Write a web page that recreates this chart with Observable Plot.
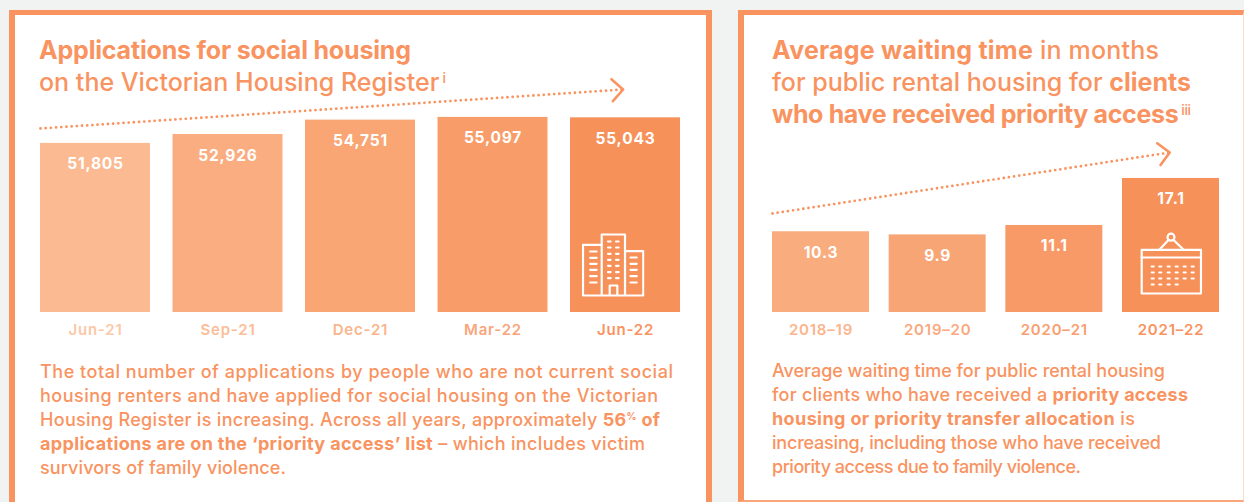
<!DOCTYPE html>
<html><head><meta charset="utf-8">
<script src="https://cdn.jsdelivr.net/npm/d3@7"></script>
<script src="https://cdn.jsdelivr.net/npm/@observablehq/plot@0.6"></script>
<style>
html,body{margin:0;padding:0;width:1244px;height:502px;overflow:hidden;background:#f1f3f2;font-family:Inter,"Noto Sans",sans-serif;color:#f9935f}
.panel{position:absolute;background:#fff;box-sizing:border-box;border:solid #f9935f}
#p1{left:9px;top:10px;width:703px;height:520px;border-width:5px 6px 0 6px}
#p2{left:738px;top:10px;width:506px;height:492px;border-width:5px 1px 2px 6px;border-right-color:#f9dcca;border-bottom-color:#f9a67a}
.chart{position:absolute}
.chart svg{overflow:visible;display:block;background:transparent}
.chart svg text{font-family:Inter,"Noto Sans",sans-serif}
.line{position:absolute;white-space:nowrap;display:inline-block}
.t{font-size:25px;line-height:32px;font-weight:500}
.b{font-size:18px;line-height:24px;font-weight:500}
.line b{font-weight:700}
sup{font-size:.55em;line-height:0;vertical-align:.6em;font-weight:500;margin-left:3px}
sup.p{margin-left:0;font-weight:700}
</style></head><body>
<div class="panel" id="p1"></div>
<div class="panel" id="p2"></div>

<div class="line t" data-w="372" style="left:39px;top:34px"><b>Applications for social housing</b></div>
<div class="line t" data-w="407" style="left:39px;top:66px">on the Victorian Housing Register<sup>i</sup></div>

<div class="line t" data-w="387" style="left:772px;top:34px"><b>Average waiting time</b> in months</div>
<div class="line t" data-w="419" style="left:772px;top:66px">for public rental housing for <b>clients</b></div>
<div class="line t" data-w="419" style="left:772px;top:98px"><b>who have received priority access</b><sup>iii</sup></div>

<div class="line b" data-w="633" style="left:40px;top:360px">The total number of applications by people who are not current social</div>
<div class="line b" data-w="618" style="left:40px;top:384px">housing renters and have applied for social housing on the Victorian</div>
<div class="line b" data-w="620" style="left:40px;top:408px">Housing Register is increasing. Across all years, approximately <b>56<sup class="p">%</sup> of</b></div>
<div class="line b" data-w="605" style="left:40px;top:432px"><b>applications are on the ‘priority access’ list</b> – which includes victim</div>
<div class="line b" data-w="246" style="left:40px;top:456px">survivors of family violence.</div>

<div class="line b" data-w="393" style="left:772px;top:359px">Average waiting time for public rental housing</div>
<div class="line b" data-w="416" style="left:772px;top:383px">for clients who have received a <b>priority access</b></div>
<div class="line b" data-w="363" style="left:772px;top:407px"><b>housing or priority transfer allocation</b> is</div>
<div class="line b" data-w="389" style="left:772px;top:431px">increasing, including those who have received</div>
<div class="line b" data-w="309" style="left:772px;top:455px">priority access due to family violence.</div>

<div class="chart" id="c1" style="left:20px;top:75px"></div>
<div class="chart" id="c2" style="left:752px;top:135px"></div>

<script>
// ---- Applications chart data
const appCategories = ["Jun-21", "Sep-21", "Dec-21", "Mar-22", "Jun-22"];
const appValues = [51805, 52926, 54751, 55097, 55043];
const appColors = ["#fbba92", "#faad80", "#f9a574", "#f89d69", "#f6915a"];
const appTickColors = ["#fcc8a8", "#fbbd98", "#fbb58c", "#f9a67c", "#f9935f"];
const appTrendX = [0, 4.397];
const appTrendY = [53691, 58628];

// ---- Waiting time chart data
const waitCategories = ["2018–19", "2019–20", "2020–21", "2021–22"];
const waitValues = [10.3, 9.9, 11.1, 17.1];
const waitColors = ["#f9ac7e", "#f8a576", "#f89a68", "#f6915a"];
const waitTickColors = ["#fbb48c", "#faa97e", "#f9a072", "#f9935f"];
const waitTrendX = [0, 3.405];
const waitTrendY = [12.63, 20.41];

const accent = "#f9935f";
const chevron = {draw(ctx, size) {
  const s = Math.sqrt(size / Math.PI);
  ctx.moveTo(-s, -s); ctx.lineTo(0, 0); ctx.lineTo(-s, s);
}};

function dashes(xs, ys, w) {
  return ys.flatMap(y => xs.map(x => `<path d="M${x} ${y}h${w}"/>`)).join("");
}
const buildingIcon = `<svg xmlns="http://www.w3.org/2000/svg" viewBox="-1.5 -1.5 63 64" width="63" height="64" fill="none" stroke="#fff" stroke-width="2.2" stroke-linecap="round" stroke-linejoin="round">
<path d="M18.7 61V10.3H0V61H60.3V16.7H42M18.7 61V0H42V61M26.7 61V51H34.3V61"/>
${dashes([7.2],[17,23.3,29.3,35.3,41.7,48],6.4)}${dashes([47.5],[23,29.3,35.3,41.7,48],6.2)}${dashes([25,33],[7,13,19.3,25.3,31.3,37.7,43.7],2.6)}</svg>`;
const calendarIcon = `<svg xmlns="http://www.w3.org/2000/svg" viewBox="-1.5 -1.5 63 64" width="63" height="64" fill="none" stroke="#fff" stroke-width="2.2" stroke-linecap="round" stroke-linejoin="round">
<rect x="0.7" y="17.3" width="59.3" height="43.7"/><path d="M0.7 25H60M18.3 17.3L27.5 7.5M42.7 17.3L32.5 7.5"/><circle cx="30" cy="4.7" r="3.5"/>
<g stroke-width="2.2">${dashes([10.7,18.3,26.7,34.7,42.7,50.7],[34,40,46],2)}${dashes([10.7,18.3,26.7,34.7],[52],2)}</g></svg>`;
const uri = s => "data:image/svg+xml," + encodeURIComponent(s);

function barChart({categories, values, colors, tickColors, trendX, trendY, barFrac, floor, top, width, height, tiltDeg, icon, iconDx, iconDy, format}) {
  const rows = categories.map((c, i) => ({c, i, v: values[i], color: colors[i], tick: tickColors[i]}));
  const mid = d => d.i + barFrac / 2;
  const trend = trendX.map((x, i) => ({x, y: trendY[i]}));
  const last = rows[rows.length - 1];
  return Plot.plot({
    width, height, marginLeft: 20, marginRight: 20, marginTop: 0, marginBottom: 30,
    x: {domain: [0, categories.length - 1 + barFrac], axis: null},
    y: {domain: [floor, top], axis: null},
    style: {background: "transparent", overflow: "visible"},
    marks: [
      Plot.rect(rows, {x1: d => d.i, x2: d => d.i + barFrac, y1: floor, y2: "v", fill: "color"}),
      Plot.text(rows, {x: mid, y: "v", dy: 21, text: d => format(d.v), fill: "#fff", fontSize: 15.5, fontWeight: 700}),
      Plot.text(rows, {x: mid, y: floor, dy: 18, text: "c", fill: "tick", fontSize: 15, fontWeight: 600}),
      Plot.line(trend, {x: "x", y: "y", stroke: accent, strokeWidth: 2.8, strokeDasharray: "0 5.2", strokeLinecap: "round"}),
      Plot.dot(trend.slice(1), {x: "x", y: "y", symbol: chevron, r: 11, rotate: tiltDeg, stroke: accent, strokeWidth: 2.6, fill: "none", strokeLinecap: "round", strokeLinejoin: "round"}),
      Plot.image([last], {x: mid, y: floor, dx: iconDx, dy: iconDy, width: 63, height: 64, src: () => uri(icon)})
    ]
  });
}

document.getElementById("c1").append(barChart({
  categories: appCategories, values: appValues, colors: appColors, tickColors: appTickColors,
  trendX: appTrendX, trendY: appTrendY, barFrac: 0.83, floor: 30400, top: 60400,
  width: 680, height: 267, tiltDeg: -3.8, icon: buildingIcon, iconDx: -12.5, iconDy: -47.5,
  format: d3.format(",")
}));
document.getElementById("c2").append(barChart({
  categories: waitCategories, values: waitValues, colors: waitColors, tickColors: waitTickColors,
  trendX: waitTrendX, trendY: waitTrendY, barFrac: 0.8314, floor: 0, top: 22.58,
  width: 487, height: 207, tiltDeg: -8.7, icon: calendarIcon, iconDx: 0, iconDy: -49.5,
  format: d3.format(".1f")
}));

// small tracking so each text line spans the same width as in the reference
document.querySelectorAll(".line[data-w]").forEach(el => {
  const w = el.getBoundingClientRect().width;
  const n = el.textContent.length;
  el.style.letterSpacing = ((+el.dataset.w - w) / (n - 1)).toFixed(3) + "px";
});
document.querySelectorAll(".chart svg text").forEach(t => t.style.letterSpacing = "0.8px");
</script>
</body></html>
